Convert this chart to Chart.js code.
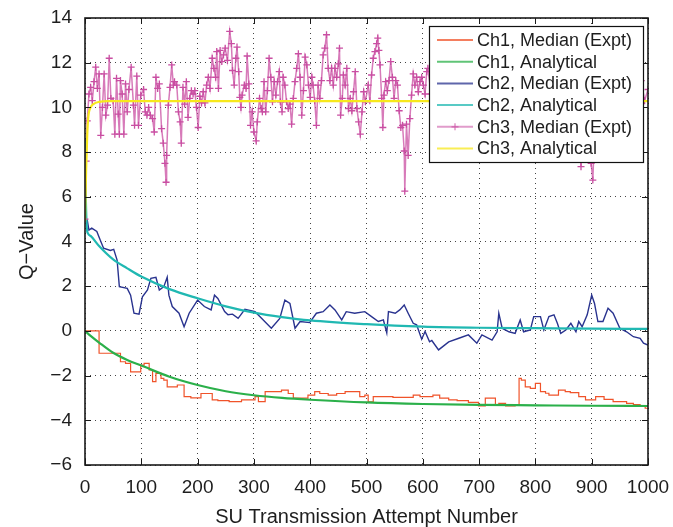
<!DOCTYPE html>
<html>
<head>
<meta charset="utf-8">
<script src="https://cdn.jsdelivr.net/npm/chart.js@4.4.1/dist/chart.umd.min.js"></script>
<style>
    html, body { margin: 0; padding: 0; background: #fff; }
    #contenedor { width: 673px; height: 527px; }
</style>
</head>
<body>
<div id="contenedor"><canvas id="grafico" width="673" height="527"></canvas></div>
<script>
// ejes
const ticksX = [0, 100, 200, 300, 400, 500, 600, 700, 800, 900, 1000];
const ticksY = [-6, -4, -2, 0, 2, 4, 6, 8, 10, 12, 14];

const etiquetas = [
    'Ch1, Median (Expt)',
    'Ch1, Analytical',
    'Ch2, Median (Expt)',
    'Ch2, Analytical',
    'Ch3, Median (Expt)',
    'Ch3, Analytical'
];

// Ch1 mediana (experimental)
const ch1MedX = [0, 25, 27, 63, 72, 81, 87, 99, 105, 114, 120, 126, 135, 140, 146, 164, 176, 188, 206, 226, 236, 256, 278, 302, 308, 320, 331, 349, 361, 370, 376, 396, 408, 417, 432, 447, 462, 488, 497, 503, 512, 524, 547, 583, 595, 618, 630, 646, 661, 681, 699, 711, 729, 735, 747, 764, 771, 775, 782, 791, 800, 809, 818, 824, 841, 853, 862, 877, 889, 907, 922, 938, 962, 974, 986, 995, 1000];
const ch1MedY = [0, 0, -1.0, -1.0, -1.38, -1.45, -1.83, -1.83, -1.53, -1.45, -1.75, -2.27, -1.9, -2.12, -2.2, -2.5, -2.42, -2.94, -3.0, -2.8, -3.09, -3.12, -3.16, -3.09, -2.94, -3.16, -2.72, -2.72, -2.65, -2.8, -3.01, -3.01, -2.87, -2.72, -2.8, -2.87, -2.8, -2.72, -2.94, -2.87, -3.17, -2.94, -2.94, -2.97, -2.87, -2.94, -2.87, -3.01, -3.09, -3.12, -3.2, -3.36, -3.01, -3.3, -3.24, -3.36, -3.3, -2.12, -2.2, -2.5, -2.57, -2.35, -2.72, -2.79, -2.87, -2.65, -2.72, -2.76, -2.94, -3.09, -2.94, -3.06, -3.16, -3.24, -3.3, -3.38, -3.46];

// Ch1 analitico
const ch1AnaX = [0, 10, 25, 50, 75, 100, 150, 200, 250, 300, 350, 400, 500, 600, 700, 800, 900, 1000];
const ch1AnaY = [0, -0.22, -0.52, -0.98, -1.3, -1.55, -2.05, -2.42, -2.7, -2.88, -3.0, -3.08, -3.2, -3.27, -3.31, -3.33, -3.35, -3.36];

// Ch2 mediana (experimental)
const ch2MedX = [0, 1, 2, 4, 7, 12, 21, 27, 33, 45, 51, 57, 61, 75, 81, 87, 96, 102, 111, 117, 126, 132, 140, 146, 149, 155, 167, 176, 185, 200, 212, 224, 230, 236, 248, 254, 262, 272, 284, 302, 314, 331, 346, 355, 364, 373, 382, 399, 411, 423, 435, 444, 456, 464, 479, 497, 509, 521, 530, 536, 539, 551, 559, 567, 574, 583, 589, 598, 604, 612, 616, 628, 646, 664, 681, 696, 705, 723, 732, 735, 741, 753, 764, 773, 779, 791, 797, 809, 815, 824, 833, 839, 845, 854, 863, 872, 877, 883, 892, 900, 905, 911, 920, 929, 938, 950, 962, 974, 986, 992, 1000];
const ch2MedY = [8.6, 8.6, 5.0, 4.96, 4.51, 4.6, 4.45, 4.07, 3.7, 3.6, 3.65, 3.17, 1.98, 1.9, 1.6, 0.79, 0.75, 1.53, 1.83, 2.35, 2.4, 1.83, 1.98, 2.4, 1.6, 1.09, 0.79, 0.19, 0.79, 1.38, 1.09, 0.94, 1.6, 1.45, 0.87, 0.72, 0.75, 0.56, 0.97, 0.86, 0.56, 0.12, 0.56, 1.38, 1.23, 0.12, 0.42, 0.37, 0.79, 0.86, 1.16, 0.94, 0.49, 0.86, 0.79, 0.86, 0.64, 0.42, 0.49, -0.09, 0.86, 0.79, 0.94, 1.16, 0.79, 0.34, 0.27, -0.37, -0.03, -0.49, -0.43, -0.85, -0.49, -0.33, -0.18, -0.55, -0.18, -0.41, -0.04, 0.79, 0.12, -0.04, -0.11, 0.49, -0.04, 0.04, 0.64, 0.64, 0.04, 0.64, 0.72, 0.34, -0.11, 0.04, 0.34, -0.04, 0.42, 0.19, 0.72, 1.6, 1.23, 0.42, 0.42, 1.01, 0.79, 0.12, -0.04, -0.26, -0.33, -0.55, -0.63];

// Ch2 analitico
const ch2AnaX = [0, 1, 3, 5, 10, 25, 50, 75, 100, 150, 200, 250, 300, 350, 400, 500, 600, 700, 800, 900, 1000];
const ch2AnaY = [8.5, 6.6, 4.7, 4.37, 4.25, 3.8, 3.2, 2.8, 2.43, 1.87, 1.46, 1.1, 0.82, 0.62, 0.47, 0.3, 0.19, 0.14, 0.12, 0.1, 0.09];

// Ch3 mediana (experimental)
const ch3MedX = [0, 2, 4, 7, 10, 13, 16, 19, 22, 25, 28, 31, 34, 37, 40, 43, 46, 50, 53, 56, 59, 61, 63, 66, 69, 72, 75, 78, 82, 86, 88, 92, 95, 99, 104, 107, 110, 113, 116, 120, 123, 126, 129, 132, 136, 139, 142, 144, 145, 148, 151, 154, 157, 159, 163, 166, 169, 171, 174, 177, 180, 183, 186, 189, 192, 195, 198, 201, 204, 207, 210, 213, 216, 219, 222, 226, 229, 232, 234, 237, 240, 243, 246, 249, 253, 257, 260, 262, 265, 268, 270, 273, 275, 277, 279, 283, 286, 288, 291, 294, 297, 300, 304, 306, 310, 313, 315, 318, 321, 324, 327, 330, 333, 336, 339, 342, 345, 347, 350, 352, 355, 358, 361, 364, 367, 370, 373, 376, 379, 382, 385, 388, 391, 394, 397, 400, 403, 405, 408, 411, 414, 417, 420, 423, 426, 429, 432, 435, 438, 441, 444, 447, 450, 452, 454, 457, 459, 462, 465, 468, 471, 474, 477, 480, 483, 486, 489, 492, 495, 498, 503, 506, 509, 512, 515, 518, 520, 522, 524, 527, 529, 531, 534, 537, 540, 543, 546, 549, 552, 555, 558, 561, 564, 567, 568, 571, 574, 577, 580, 583, 586, 589, 592, 595, 598, 601, 604, 607, 609, 615, 620, 626, 632, 638, 644, 650, 656, 662, 668, 674, 680, 686, 692, 698, 704, 710, 716, 722, 728, 734, 740, 746, 752, 758, 764, 770, 776, 782, 788, 794, 800, 806, 812, 818, 824, 830, 836, 842, 848, 854, 860, 866, 872, 878, 881, 884, 890, 896, 899, 902, 905, 910, 916, 922, 928, 934, 940, 946, 952, 958, 964, 970, 976, 982, 988, 994, 1000];
const ch3MedY = [5.0, 7.6, 9.4, 10.6, 10.9, 10.3, 11.15, 11.8, 10.85, 11.5, 8.75, 10.0, 11.5, 9.65, 10.1, 12.2, 10.4, 10.3, 8.8, 11.3, 9.7, 8.8, 11.2, 10.6, 8.8, 11.05, 9.8, 10.8, 11.8, 10.1, 9.2, 11.4, 9.2, 10.55, 10.8, 9.8, 9.65, 10.0, 9.65, 9.5, 8.9, 11.35, 10.85, 11.05, 9.05, 8.4, 7.5, 6.65, 7.85, 10.1, 10.9, 11.9, 11.0, 11.15, 11.0, 9.8, 9.35, 8.4, 10.9, 10.15, 11.15, 9.55, 10.4, 10.75, 10.6, 10.75, 10.0, 9.1, 10.5, 10.2, 10.7, 10.2, 11.0, 11.35, 10.85, 12.2, 11.75, 11.35, 12.5, 10.85, 12.55, 12.05, 12.35, 12.65, 12.1, 13.4, 12.85, 11.65, 11.0, 12.2, 12.7, 11.6, 10.45, 10.0, 10.55, 11.0, 10.85, 12.3, 11.05, 9.2, 9.8, 8.9, 8.5, 9.35, 10.4, 9.95, 9.8, 11.15, 9.8, 10.75, 12.2, 11.35, 10.25, 11.15, 10.55, 11.15, 11.6, 10.25, 9.8, 11.35, 11.0, 10.25, 9.95, 10.15, 9.25, 10.4, 11.15, 11.75, 12.4, 11.35, 9.65, 10.75, 12.25, 11.9, 11.0, 10.45, 11.35, 11.0, 10.3, 9.2, 11.0, 10.4, 11.2, 12.35, 12.65, 13.25, 11.75, 11.2, 11.75, 11.0, 11.75, 11.35, 11.95, 12.65, 9.65, 10.4, 11.45, 11.0, 11.75, 9.95, 10.4, 9.85, 10.7, 11.6, 9.95, 9.35, 8.8, 9.8, 10.7, 10.25, 11.0, 10.3, 11.45, 12.2, 12.5, 12.85, 13.1, 12.55, 11.9, 10.4, 9.1, 10.55, 11.15, 10.75, 11.2, 12.05, 11.35, 10.4, 11.2, 11.0, 9.85, 9.1, 9.2, 8.05, 6.25, 9.25, 7.85, 9.5, 10.55, 11.5, 11.0, 11.35, 10.7, 11.15, 11.35, 11.0, 10.6, 11.6, 11.75, 10.6, 11.2, 10.1, 9.6, 10.8, 11.5, 10.4, 9.9, 11.0, 12.1, 11.3, 10.2, 9.4, 10.5, 11.4, 10.8, 9.7, 10.3, 11.6, 12.3, 11.1, 10.4, 9.8, 10.9, 11.7, 10.6, 9.5, 10.2, 11.3, 12.0, 10.9, 10.1, 9.2, 10.4, 11.2, 10.6, 9.9, 11.0, 11.8, 10.7, 9.6, 10.3, 11.1, 9.8, 8.6, 7.35, 8.9, 10.2, 9.0, 7.5, 6.75, 8.8, 10.4, 11.3, 10.6, 9.9, 11.0, 11.9, 10.8, 10.0, 10.7, 11.5, 10.4, 9.7, 10.6, 11.2, 10.3, 10.8];

// Ch3 analitico
const ch3AnaX = [0, 2, 4, 6, 10, 15, 25, 40, 1000];
const ch3AnaY = [4.9, 7.2, 8.8, 9.6, 10.0, 10.15, 10.25, 10.28, 10.28];

const colores = ['#f0532a', '#2bb04a', '#29338f', '#20b8b2', '#c94ea2', '#f7e81c'];

function puntos(xs, ys) {
    let datos = [];
    for (let i = 0; i < xs.length; i++) {
        datos.push({ x: xs[i], y: ys[i] });
    }
    return datos;
}

function menos(v) {
    return String(v).replace('-', '\u2212');
}

// caja de ejes con marcas hacia dentro (estilo matlab)
const marcoEjes = {
    id: 'marcoEjes',
    afterDatasetsDraw(chart) {
        const { ctx, chartArea: a, scales } = chart;
        ctx.save();
        ctx.strokeStyle = '#1a1a1a';
        ctx.lineWidth = 1;
        ctx.beginPath();
        for (let t of ticksX) {
            let px = Math.round(scales.x.getPixelForValue(t)) + 0.5;
            ctx.moveTo(px, a.bottom); ctx.lineTo(px, a.bottom - 6);
            ctx.moveTo(px, a.top); ctx.lineTo(px, a.top + 6);
        }
        for (let t of ticksY) {
            let py = Math.round(scales.y.getPixelForValue(t)) + 0.5;
            ctx.moveTo(a.left, py); ctx.lineTo(a.left + 6, py);
            ctx.moveTo(a.right, py); ctx.lineTo(a.right - 6, py);
        }
        ctx.stroke();
        ctx.lineWidth = 1.6;
        ctx.strokeRect(a.left, a.top, a.right - a.left, a.bottom - a.top);
        ctx.restore();
    }
};

// leyenda con fondo blanco encima de las lineas
const leyenda = {
    id: 'leyenda',
    afterDraw(chart) {
        const ctx = chart.ctx;
        const x0 = 429.5, y0 = 26.5, ancho = 214, alto = 136;
        ctx.save();
        ctx.fillStyle = '#fff';
        ctx.fillRect(x0, y0, ancho, alto);
        ctx.strokeStyle = '#111';
        ctx.lineWidth = 1.2;
        ctx.strokeRect(x0, y0, ancho, alto);
        ctx.font = '18px "Liberation Sans", Arial, sans-serif';
        ctx.textBaseline = 'middle';
        chart.data.datasets.forEach((ds, i) => {
            let yy = 40 + i * 21.7;
            ctx.strokeStyle = ds.borderColor;
            ctx.lineWidth = 2;
            ctx.globalAlpha = 0.75;
            ctx.beginPath();
            ctx.moveTo(437, yy); ctx.lineTo(473, yy);
            ctx.stroke();
            ctx.globalAlpha = 1;
            if (ds.pointStyle === 'cross') {
                ctx.lineWidth = 1.2;
                ctx.beginPath();
                ctx.moveTo(455, yy - 3.5); ctx.lineTo(455, yy + 3.5);
                ctx.moveTo(451.5, yy); ctx.lineTo(458.5, yy);
                ctx.stroke();
            }
            ctx.fillStyle = '#1e1e1e';
            ctx.fillText(ds.label, 477, yy + 1);
        });
        ctx.restore();
    }
};

const fuente = '"Liberation Sans", Arial, sans-serif';

new Chart(document.getElementById('grafico'), {
    type: 'line',
    data: {
        datasets: [
            { label: etiquetas[0], data: puntos(ch1MedX, ch1MedY), borderColor: colores[0], borderWidth: 1.2, pointRadius: 0, stepped: 'after', order: 6 },
            { label: etiquetas[1], data: puntos(ch1AnaX, ch1AnaY), borderColor: colores[1], borderWidth: 2.2, pointRadius: 0, cubicInterpolationMode: 'monotone', order: 5 },
            { label: etiquetas[2], data: puntos(ch2MedX, ch2MedY), borderColor: colores[2], borderWidth: 1.4, pointRadius: 0, order: 4 },
            { label: etiquetas[3], data: puntos(ch2AnaX, ch2AnaY), borderColor: colores[3], borderWidth: 2.2, pointRadius: 0, cubicInterpolationMode: 'monotone', order: 3 },
            { label: etiquetas[4], data: puntos(ch3MedX, ch3MedY), borderColor: 'rgba(201,78,162,0.75)', pointBorderColor: colores[4], borderWidth: 1.5, pointStyle: 'cross', pointRadius: 3.5, pointBorderWidth: 1.3, order: 2 },
            { label: etiquetas[5], data: puntos(ch3AnaX, ch3AnaY), borderColor: colores[5], borderWidth: 2.2, pointRadius: 0, cubicInterpolationMode: 'monotone', order: 1 }
        ]
    },
    options: {
        responsive: false,
        animation: false,
        devicePixelRatio: 1,
        layout: { padding: { left: 0, right: 25, top: 18, bottom: 0 } },
        plugins: {
            legend: { display: false },
            tooltip: { enabled: false }
        },
        scales: {
            x: {
                type: 'linear',
                min: 0,
                max: 1000,
                afterBuildTicks: (s) => { s.ticks = ticksX.map(v => ({ value: v })); },
                afterFit: (s) => { s.height = 62; s.paddingLeft = 0; s.paddingRight = 0; },
                grid: { color: '#444', lineWidth: 1, drawTicks: false },
                border: { display: false, dash: [1, 4] },
                ticks: { color: '#1e1e1e', padding: 11, font: { family: fuente, size: 19 }, maxRotation: 0, callback: (v) => menos(v) },
                title: { display: true, text: 'SU Transmission Attempt Number', color: '#1e1e1e', font: { family: fuente, size: 20, lineHeight: 1.0 }, padding: { top: 0, bottom: 0 } }
            },
            y: {
                type: 'linear',
                min: -6,
                max: 14,
                afterBuildTicks: (s) => { s.ticks = ticksY.map(v => ({ value: v })); },
                afterFit: (s) => { s.width = 85; s.paddingTop = 0; s.paddingBottom = 0; },
                grid: { color: '#444', lineWidth: 1, drawTicks: false },
                border: { display: false, dash: [1, 4] },
                ticks: { color: '#1e1e1e', padding: 13, font: { family: fuente, size: 19 }, callback: (v) => menos(v) },
                title: { display: true, text: 'Q\u2212Value', color: '#1e1e1e', font: { family: fuente, size: 20 }, padding: { top: 15, bottom: 0 } }
            }
        }
    },
    plugins: [marcoEjes, leyenda]
});
</script>
</body>
</html>
